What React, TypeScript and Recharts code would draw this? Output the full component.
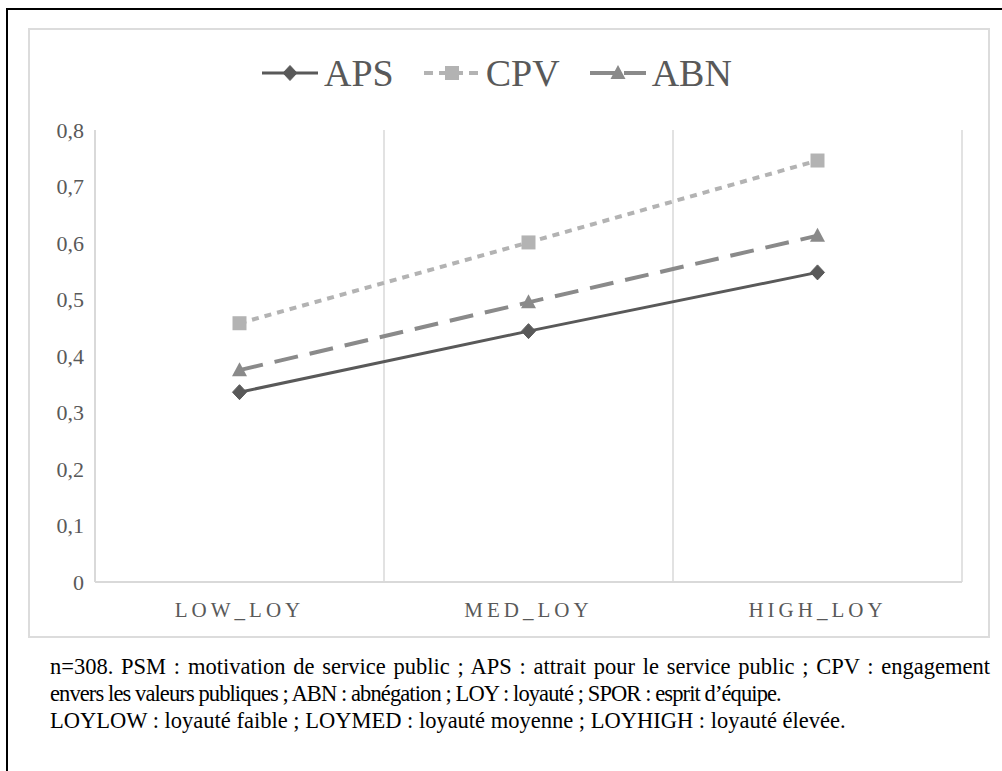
import React from 'react';
import { LineChart, Line, XAxis, YAxis, ReferenceLine, Legend } from 'recharts';

const categories = ['LOW_LOY', 'MED_LOY', 'HIGH_LOY'];
const apsValues = [0.336, 0.444, 0.548];
const cpvValues = [0.458, 0.601, 0.746];
const abnValues = [0.375, 0.495, 0.613];
const yTicks = [0, 0.1, 0.2, 0.3, 0.4, 0.5, 0.6, 0.7, 0.8];
const noteLines = [
  'n=308. PSM : motivation de service public ; APS : attrait pour le service public ; CPV : engagement',
  'envers les valeurs publiques ; ABN : abnégation ; LOY : loyauté ; SPOR : esprit d’équipe.',
  'LOYLOW : loyauté faible ; LOYMED : loyauté moyenne ; LOYHIGH : loyauté élevée.',
];

const data = categories.map((c, i) => ({
  x: i + 0.5,
  name: c,
  APS: apsValues[i],
  CPV: cpvValues[i],
  ABN: abnValues[i],
}));
const xTicks = categories.map((_, i) => i + 0.5);
const boundaries = categories.map((_, i) => i + 1);

const FONT = 'Liberation Serif, DejaVu Serif, Noto Serif, serif';
const C_APS = '#595959';
const C_CPV = '#b3b3b3';
const C_ABN = '#8a8a8a';

const series = [
  { key: 'APS', color: C_APS, width: 3, dash: undefined as string | undefined, shape: 'diamond' },
  { key: 'CPV', color: C_CPV, width: 4, dash: '7 6', shape: 'square' },
  { key: 'ABN', color: C_ABN, width: 4, dash: '24 12', shape: 'triangle' },
];

function Marker({ cx, cy, shape, color }: { cx: number; cy: number; shape: string; color: string }) {
  if (cx == null || cy == null) return null;
  if (shape === 'diamond') {
    return <polygon points={`${cx},${cy - 7.5} ${cx + 7},${cy} ${cx},${cy + 7.5} ${cx - 7},${cy}`} fill={color} stroke={color} strokeWidth={1} />;
  }
  if (shape === 'square') {
    return <rect x={cx - 7} y={cy - 7} width={14} height={14} fill={color} />;
  }
  return <polygon points={`${cx},${cy - 8} ${cx + 7.5},${cy + 6} ${cx - 7.5},${cy + 6}`} fill={color} />;
}

function LegendContent() {
  return (
    <div style={{ display: 'flex', alignItems: 'center', height: 50, fontFamily: FONT, fontSize: 38, color: '#595959' }}>
      {series.map((s, i) => (
        <div key={s.key} style={{ display: 'flex', alignItems: 'center', marginLeft: i === 0 ? 0 : 30 }}>
          <svg width={56} height={20} style={{ display: 'block' }}>
            <line x1={0} y1={10} x2={56} y2={10} stroke={s.color} strokeWidth={s.width} strokeDasharray={s.dash ? (s.key === 'ABN' ? '26 8' : '9 6') : undefined} />
            <Marker cx={28} cy={10} shape={s.shape} color={s.color} />
          </svg>
          <span style={{ marginLeft: 6, lineHeight: '50px' }}>{s.key}</span>
        </div>
      ))}
    </div>
  );
}

export default function App() {
  return (
    <div style={{ position: 'fixed', left: 0, top: 0, right: 0, bottom: 0, background: '#fff' }}>
      <div style={{ position: 'absolute', left: 6, top: 8, right: -10, bottom: -10, borderLeft: '2px solid #000', borderTop: '2px solid #000' }} />
      <div style={{ position: 'absolute', left: 28, top: 28, width: 962, height: 610, boxSizing: 'border-box', border: '2px solid #dcdcdc', background: '#fff' }}>
        <LineChart width={958} height={606} data={data} margin={{ top: 100, right: 26, bottom: 14, left: 15 }}>
          <XAxis
            dataKey="x"
            type="number"
            domain={[0, 3]}
            ticks={xTicks}
            tickFormatter={(v: number) => categories[Math.floor(v)]}
            axisLine={{ stroke: '#d9d9d9', strokeWidth: 2 }}
            tickLine={false}
            tickSize={0}
            tickMargin={20}
            height={40}
            tick={{ fill: '#595959', fontSize: 21, fontFamily: FONT, letterSpacing: 4 }}
          />
          <YAxis
            type="number"
            domain={[0, 0.8]}
            ticks={yTicks}
            tickFormatter={(v: number) => String(v).replace('.', ',')}
            axisLine={{ stroke: '#d9d9d9', strokeWidth: 2 }}
            tickLine={false}
            tickSize={0}
            tickMargin={11}
            width={50}
            tick={{ fill: '#595959', fontSize: 22, fontFamily: FONT }}
          />
          {boundaries.map((b) => (
            <ReferenceLine key={b} x={b} stroke="#d9d9d9" strokeWidth={1.5} />
          ))}
          <Legend
            verticalAlign="middle"
            align="center"
            layout="horizontal"
            content={<LegendContent />}
            wrapperStyle={{ top: 18, left: 232, width: 'auto', height: 50 }}
          />
          {series.map((s) => (
            <Line
              key={s.key}
              dataKey={s.key}
              stroke={s.color}
              strokeWidth={s.width}
              strokeDasharray={s.dash}
              isAnimationActive={false}
              dot={(p: any) => <Marker key={`${s.key}-${p.index}`} cx={p.cx} cy={p.cy} shape={s.shape} color={s.color} />}
              activeDot={false}
              legendType="none"
            />
          ))}
        </LineChart>
      </div>
      <div style={{ position: 'absolute', left: 50, top: 653, width: 940, fontFamily: FONT, fontSize: 22.5, lineHeight: '27px', color: '#000', whiteSpace: 'nowrap' }}>
        <div style={{ textAlign: 'justify', textAlignLast: 'justify' } as React.CSSProperties}>{noteLines[0]}</div>
        <div style={{ letterSpacing: -0.9 }}>{noteLines[1]}</div>
        <div>{noteLines[2]}</div>
      </div>
    </div>
  );
}
